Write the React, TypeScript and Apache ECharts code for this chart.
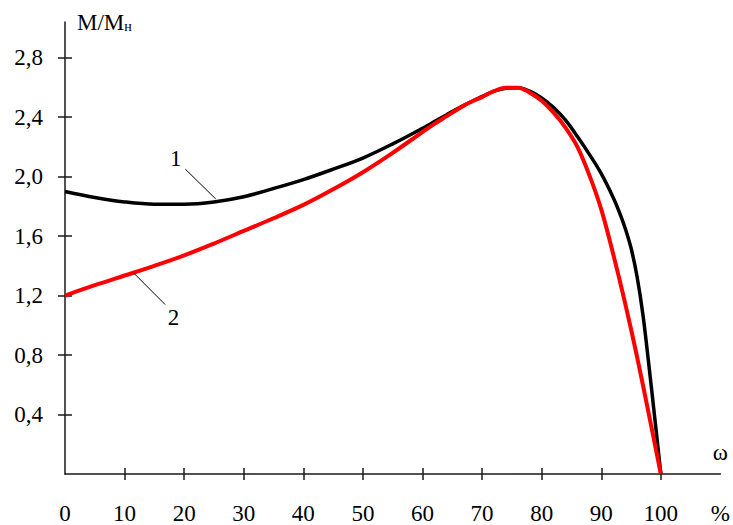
import React, { useEffect, useRef } from "react";
import * as echarts from "echarts";

const xTicks = [10, 20, 30, 40, 50, 60, 70, 80, 90, 100];
const xLabelValues = [0, 10, 20, 30, 40, 50, 60, 70, 80, 90, 100, 110];
const yTicks = [0.4, 0.8, 1.2, 1.6, 2.0, 2.4, 2.8];

const curve1X = [0, 5, 10, 15, 20, 25, 30, 35, 40, 45, 50, 55, 60, 62, 64, 66, 68, 70, 72, 74, 76, 78, 80, 82, 84, 86, 88, 90, 92, 93, 94, 95, 96, 97, 98, 99, 100];
const curve1Y = [1.9, 1.86, 1.83, 1.815, 1.815, 1.83, 1.865, 1.92, 1.98, 2.05, 2.125, 2.22, 2.325, 2.37, 2.415, 2.46, 2.5, 2.54, 2.575, 2.595, 2.598, 2.575, 2.53, 2.465, 2.38, 2.27, 2.15, 2.02, 1.86, 1.765, 1.655, 1.52, 1.33, 1.07, 0.73, 0.37, 0];

const curve2X = [0, 5, 10, 15, 20, 25, 30, 35, 40, 45, 50, 55, 60, 62, 64, 66, 68, 70, 72, 74, 76, 78, 80, 82, 84, 86, 88, 90, 92, 94, 96, 98, 100];
const curve2Y = [1.2, 1.27, 1.335, 1.4, 1.47, 1.55, 1.635, 1.72, 1.81, 1.915, 2.03, 2.16, 2.3, 2.355, 2.405, 2.455, 2.5, 2.535, 2.575, 2.597, 2.598, 2.565, 2.51, 2.43, 2.33, 2.2, 2.01, 1.78, 1.48, 1.15, 0.79, 0.4, 0];

const label1 = { text: "1", at: [18.6, 2.12], leader: [[20.2, 2.05], [25.3, 1.85]] };
const label2 = { text: "2", at: [18.2, 1.05], leader: [[11.5, 1.353], [16.8, 1.14]] };

const FONT = "Liberation Serif";
const AXIS_COLOR = "#1a1a1a";

function pairs(xs: number[], ys: number[]) {
  return xs.map((x, i) => [x, ys[i]]);
}

function annot(l: typeof label1) {
  return {
    markLine: {
      silent: true,
      symbol: ["none", "none"],
      lineStyle: { color: "#000", width: 1, type: "solid" },
      label: { show: false },
      data: [[{ coord: l.leader[0] }, { coord: l.leader[1] }]],
    },
    markPoint: {
      silent: true,
      symbol: "circle",
      symbolSize: 0,
      label: {
        show: true,
        formatter: l.text,
        color: "#000",
        fontSize: 23,
        fontFamily: FONT,
        position: "inside",
      },
      data: [{ coord: l.at }],
    },
  };
}

export default function App() {
  const ref = useRef<HTMLDivElement>(null);
  useEffect(() => {
    document.body.style.margin = "0";
    const chart = echarts.init(ref.current!, undefined, { renderer: "svg" });
    const baseX = {
      type: "value",
      min: 0,
      max: 110,
      interval: 10,
      splitLine: { show: false },
    };
    const baseY = {
      type: "value",
      min: 0,
      max: 3.04,
      splitLine: { show: false },
    };
    chart.setOption({
      animation: false,
      textStyle: { fontFamily: FONT },
      grid: { left: 65, right: 10, top: 22, bottom: 47 },
      xAxis: [
        {
          ...baseX,
          position: "bottom",
          name: "ω",
          nameLocation: "end",
          nameGap: 0,
          nameTextStyle: {
            fontFamily: FONT,
            fontSize: 23,
            color: "#000",
            align: "center",
            verticalAlign: "bottom",
            padding: [0, 0, 10, 0],
          },
          axisLine: { show: true, lineStyle: { color: AXIS_COLOR, width: 1.5 } },
          axisTick: { show: true, inside: false, length: 6, customValues: xTicks, lineStyle: { color: AXIS_COLOR, width: 1.5 } },
          axisLabel: {
            show: true,
            customValues: xLabelValues,
            margin: 28,
            fontFamily: FONT,
            fontSize: 23,
            color: "#000",
            formatter: (v: number) => (v === 110 ? "%" : String(v)),
          },
        },
        {
          ...baseX,
          position: "bottom",
          axisLine: { show: false },
          axisTick: { show: true, inside: true, length: 6, customValues: xTicks, lineStyle: { color: AXIS_COLOR, width: 1.5 } },
          axisLabel: { show: false },
        },
      ],
      yAxis: [
        {
          ...baseY,
          position: "left",
          name: "M/M{s|н}",
          nameLocation: "end",
          nameGap: 0,
          nameTextStyle: {
            fontFamily: FONT,
            fontSize: 23,
            color: "#000",
            align: "left",
            verticalAlign: "middle",
            padding: [0, 0, 0, 12],
            rich: {
              s: { fontFamily: FONT, fontSize: 14, color: "#000", verticalAlign: "bottom", padding: [8, 0, 0, 0] },
            },
          },
          axisLine: { show: true, lineStyle: { color: AXIS_COLOR, width: 1.5 } },
          axisTick: { show: true, inside: false, length: 7, customValues: yTicks, lineStyle: { color: AXIS_COLOR, width: 1.5 } },
          axisLabel: {
            show: true,
            customValues: yTicks,
            margin: 22,
            fontFamily: FONT,
            fontSize: 23,
            color: "#000",
            formatter: (v: number) => v.toFixed(1).replace(".", ","),
          },
        },
        {
          ...baseY,
          position: "left",
          axisLine: { show: false },
          axisTick: { show: true, inside: true, length: 7, customValues: yTicks, lineStyle: { color: AXIS_COLOR, width: 1.5 } },
          axisLabel: { show: false },
        },
      ],
      series: [
        {
          type: "line",
          xAxisIndex: 0,
          yAxisIndex: 0,
          data: pairs(curve1X, curve1Y),
          smooth: 0.35,
          symbol: "none",
          lineStyle: { color: "#000", width: 3.5 },
          ...annot(label1),
        },
        {
          type: "line",
          xAxisIndex: 0,
          yAxisIndex: 0,
          data: pairs(curve2X, curve2Y),
          smooth: 0.35,
          symbol: "none",
          lineStyle: { color: "#ff0000", width: 4 },
          ...annot(label2),
        },
      ],
    });
    return () => chart.dispose();
  }, []);
  return <div ref={ref} style={{ width: 733, height: 525 }} />;
}
